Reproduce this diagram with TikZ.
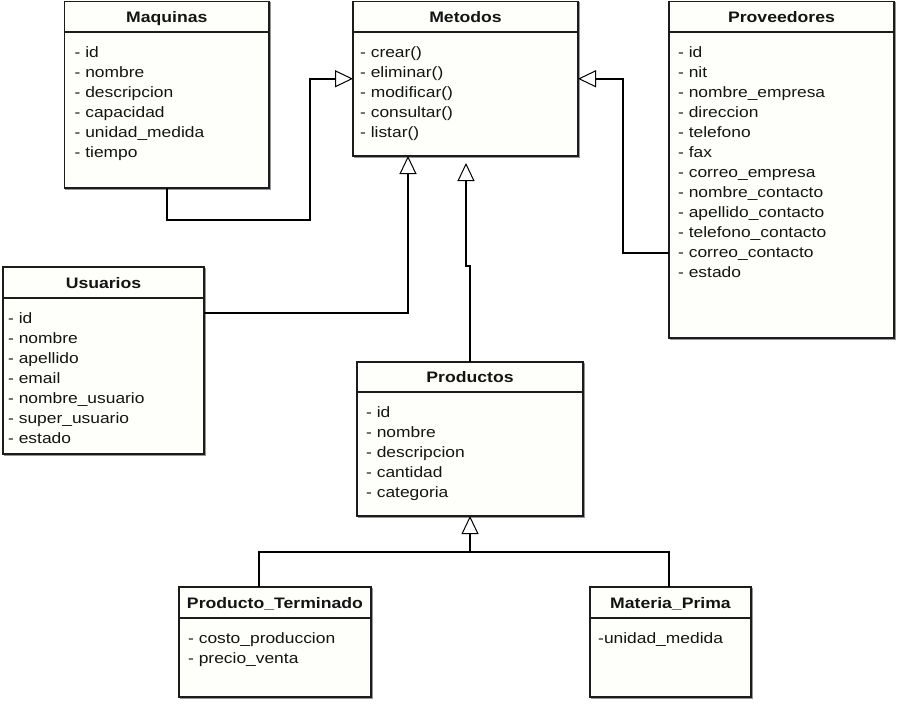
\documentclass[tikz,border=0pt]{standalone}
\usepackage{fontspec}
\setmainfont[FakeStretch=1.16]{Liberation Sans}
\usetikzlibrary{arrows.meta}

\definecolor{boxfill}{RGB}{254,254,250}
\definecolor{boxline}{RGB}{28,28,28}
\definecolor{boxshade}{RGB}{150,150,150}
\definecolor{inktext}{RGB}{20,20,20}

\tikzset{
  classbox/.style={draw=boxline, fill=boxfill, line width=1.2pt,
    inner sep=0pt, outer sep=0pt, anchor=north west},
  shadeline/.style={draw=boxshade, line width=1pt},
  sepline/.style={draw=boxline, line width=1.1pt},
  titletext/.style={anchor=base, inner sep=0pt, text=inktext,
    font=\fontsize{15.2}{18}\selectfont\bfseries},
  attrtext/.style={anchor=base west, inner sep=0pt, text=inktext,
    font=\fontsize{15}{20}\selectfont},
  link/.style={draw=black, line width=1.5pt},
  gen/.style={link, -{Triangle[length=18pt, width=17pt, fill=white, line width=1pt]}},
}

% #1 name, #2 left, #3 top, #4 right, #5 bottom, #6 header rule, #7 title
\newcommand\umlclass[7]{%
  \draw[shadeline] (#2+1.2,#3+1.2) rectangle (#4+1.2,#5+1.2);
  \node[classbox, minimum width={#4-#2}, minimum height={#5-#3}] (#1) at (#2,#3) {};
  \draw[sepline] (#1.west |- #2,#6) -- (#1.east |- #2,#6);
  \pgfmathsetmacro\titlebase{#6-10}
  \node[titletext] (#1-title) at (#1.north |- #2,\titlebase) {#7};
}

% #1 name, #2 text x, #3 header rule, #4 member list
\newcommand\umlmembers[4]{%
  \foreach \t [count=\i] in {#4} {
    \pgfmathsetmacro\rowbase{#3+25+20*(\i-1)}
    \node[attrtext] (#1-\i) at (#2,\rowbase) {\t};
  }
}

\begin{document}
\begin{tikzpicture}[x=1pt, y=-1pt]
  \useasboundingbox (0,0) rectangle (900,705);
  \fill[white] (0,0) rectangle (900,705);

  % classes
  \umlclass{maq}{64.5}{1.5}{269}{188}{32}{Maquinas}
  \umlmembers{maq}{74.5}{32}{- id, - nombre, - descripcion, - capacidad, - unidad\_medida, - tiempo}

  \umlclass{met}{353}{1.5}{578}{156}{32}{Metodos}
  \umlmembers{met}{360}{32}{- crear(), - eliminar(), - modificar(), - consultar(), - listar()}

  \umlclass{prv}{669}{1.5}{894}{338}{32}{Proveedores}
  \umlmembers{prv}{678}{32}{- id, - nit, - nombre\_empresa, - direccion, - telefono, - fax,
    - correo\_empresa, - nombre\_contacto, - apellido\_contacto, - telefono\_contacto,
    - correo\_contacto, - estado}

  \umlclass{usu}{3}{267}{204}{454}{298}{Usuarios}
  \umlmembers{usu}{8}{298}{- id, - nombre, - apellido, - email, - nombre\_usuario, - super\_usuario, - estado}

  \umlclass{prd}{357}{362}{583}{516}{392}{Productos}
  \umlmembers{prd}{366}{392}{- id, - nombre, - descripcion, - cantidad, - categoria}

  \umlclass{pt}{179}{587}{371}{697}{618}{Producto\_Terminado}
  \umlmembers{pt}{188}{618}{- costo\_produccion, - precio\_venta}

  \umlclass{mp}{590}{587}{751}{697}{618}{Materia\_Prima}
  \umlmembers{mp}{598}{618}{-unidad\_medida}

  % generalisations towards Metodos
  \draw[gen] (maq.south) |- (310,220) |- (met.west);
  \draw[gen] (usu.east |- 0,313) -| (met.south -| 408,0);
  \draw[gen] (prv.west |- 0,253) -- (623,253) |- (met.east);
  \coordinate (prdtip) at (466,163);
  \draw[gen] (prd.north) -- (prd.north |- 0,266) -- (prdtip |- 0,266) -- (prdtip);

  % generalisations towards Productos
  \coordinate (junc) at (prd.south |- 0,552);
  \draw[link] (pt.north -| 259,0) |- (junc);
  \draw[link] (mp.north -| 669,0) |- (junc);
  \draw[gen] (junc) -- (prd.south);
\end{tikzpicture}
\end{document}
